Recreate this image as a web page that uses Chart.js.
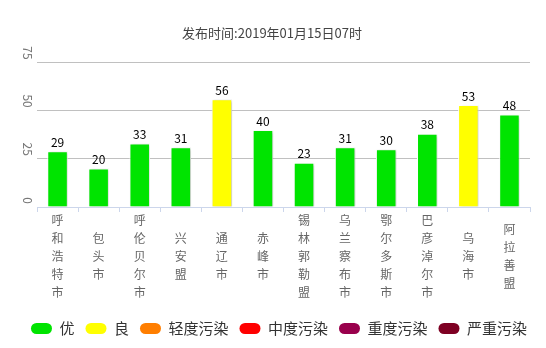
<!DOCTYPE html>
<html>
<head>
<meta charset="utf-8">
<script src="https://cdn.jsdelivr.net/npm/chart.js@4.4.0/dist/chart.umd.min.js"></script>
<style>
  html, body { margin: 0; padding: 0; background: #fff; }
  #wrap { width: 546px; height: 348px; }
</style>
</head>
<body>
<div id="wrap"><canvas id="myChart"></canvas></div>
<script>
const cities = ["呼和浩特市", "包头市", "呼伦贝尔市", "兴安盟", "通辽市", "赤峰市", "锡林郭勒盟", "乌兰察布市", "鄂尔多斯市", "巴彦淖尔市", "乌海市", "阿拉善盟"];
const aqiValues = [29, 20, 33, 31, 56, 40, 23, 31, 30, 38, 53, 48];
const yTicks = [0, 25, 50, 75];
const levelNames = ["优", "良", "轻度污染", "中度污染", "重度污染", "严重污染"];
const levelColors = ["#00e400", "#ffff00", "#ff7e00", "#ff0000", "#99004c", "#7e0023"];
const levelLimits = [50, 100, 150, 200, 300, 500];
const titleText = "发布时间:2019年01月15日07时";

const FONT = "'Noto Sans CJK SC', sans-serif";

// colour of each bar from its AQI level
function levelColor(v){
    for(let i=0; i<levelLimits.length; i++){
        if(v <= levelLimits[i]) return levelColors[i];
    }
    return levelColors[levelColors.length-1];
}
const barColors = aqiValues.map(levelColor);
// vertical labels: one character per line
const xLabels = cities.map(c => c.split(""));

const barShadow = {
    id: 'barShadow',
    beforeDatasetsDraw(chart){
        const ctx = chart.ctx;
        ctx.save();
        ctx.shadowColor = 'rgba(0,0,0,0.22)';
        ctx.shadowBlur = 3;
        ctx.shadowOffsetX = 1.5;
        ctx.shadowOffsetY = 1;
    },
    afterDatasetsDraw(chart){
        chart.ctx.restore();
    }
};

const valueLabels = {
    id: 'valueLabels',
    afterDatasetsDraw(chart){
        const ctx = chart.ctx;
        const meta = chart.getDatasetMeta(0);
        ctx.save();
        ctx.font = "12px " + FONT;
        ctx.fillStyle = "#000";
        ctx.textAlign = "center";
        ctx.textBaseline = "bottom";
        meta.data.forEach((bar, i) => {
            ctx.fillText(String(aqiValues[i]), bar.x, bar.y - 3);
        });
        ctx.restore();
    }
};

// rotated y tick labels, sitting just above their grid line
const yLabels = {
    id: 'yLabels',
    afterDraw(chart){
        const ctx = chart.ctx;
        const y = chart.scales.y;
        ctx.save();
        ctx.font = "12px " + FONT;
        ctx.fillStyle = "#777";
        ctx.textAlign = "right";
        ctx.textBaseline = "middle";
        yTicks.forEach(t => {
            ctx.save();
            ctx.translate(28, y.getPixelForValue(t) - 3);
            ctx.rotate(Math.PI/2);
            ctx.fillText(String(t), 0, 0);
            ctx.restore();
        });
        ctx.restore();
    }
};

// title and legend sit a little right of the plot centre in the original
const boxShift = {
    id: 'boxShift',
    afterLayout(chart){
        chart.titleBlock.left += 7;
        chart.titleBlock.right += 7;
        chart.legend.left += 14;
        chart.legend.right += 14;
    }
};

new Chart(document.getElementById("myChart"), {
    type: 'bar',
    data: {
        labels: xLabels,
        datasets: [{
            data: aqiValues,
            backgroundColor: barColors,
            borderColor: '#ffffff',
            borderWidth: 1,
            barPercentage: 0.5,
            categoryPercentage: 1
        }]
    },
    options: {
        responsive: true,
        maintainAspectRatio: false,
        animation: false,
        layout: { padding: { left: 0, right: 16, top: 0, bottom: 2 } },
        plugins: {
            title: {
                display: true,
                text: titleText,
                color: '#444',
                font: { family: FONT, size: 13, weight: 'normal' },
                padding: { top: 25, bottom: 22 }
            },
            tooltip: { enabled: false },
            legend: {
                position: 'bottom',
                labels: {
                    color: '#333',
                    font: { family: FONT, size: 15 },
                    boxWidth: 21,
                    boxHeight: 11,
                    padding: 11,
                    useBorderRadius: true,
                    borderRadius: 5.5,
                    generateLabels(){
                        return levelNames.map((n, i) => ({
                            text: n,
                            fillStyle: levelColors[i],
                            strokeStyle: levelColors[i],
                            lineWidth: 0,
                            borderRadius: 5.5,
                            fontColor: '#333',
                            hidden: false
                        }));
                    }
                },
                onClick(){}
            }
        },
        scales: {
            x: {
                grid: { offset: true, drawOnChartArea: false, color: '#ccd6eb', tickLength: 5 },
                border: { color: '#ccd6eb' },
                ticks: {
                    color: '#666',
                    font: { family: FONT, size: 12, lineHeight: 1.5 },
                    crossAlign: 'center',
                    padding: 8,
                    maxRotation: 0,
                    autoSkip: false
                },
                afterFit(scale){ scale.height = 103; }
            },
            y: {
                min: 0,
                max: 75,
                ticks: { stepSize: 25, display: false },
                grid: {
                    color: ctx => ctx.tick && ctx.tick.value === 0 ? 'rgba(0,0,0,0)' : '#c0c0c0',
                    drawTicks: false
                },
                border: { display: false },
                afterFit(scale){ scale.width = 37; }
            }
        }
    },
    plugins: [barShadow, valueLabels, yLabels, boxShift]
});
</script>
</body>
</html>
